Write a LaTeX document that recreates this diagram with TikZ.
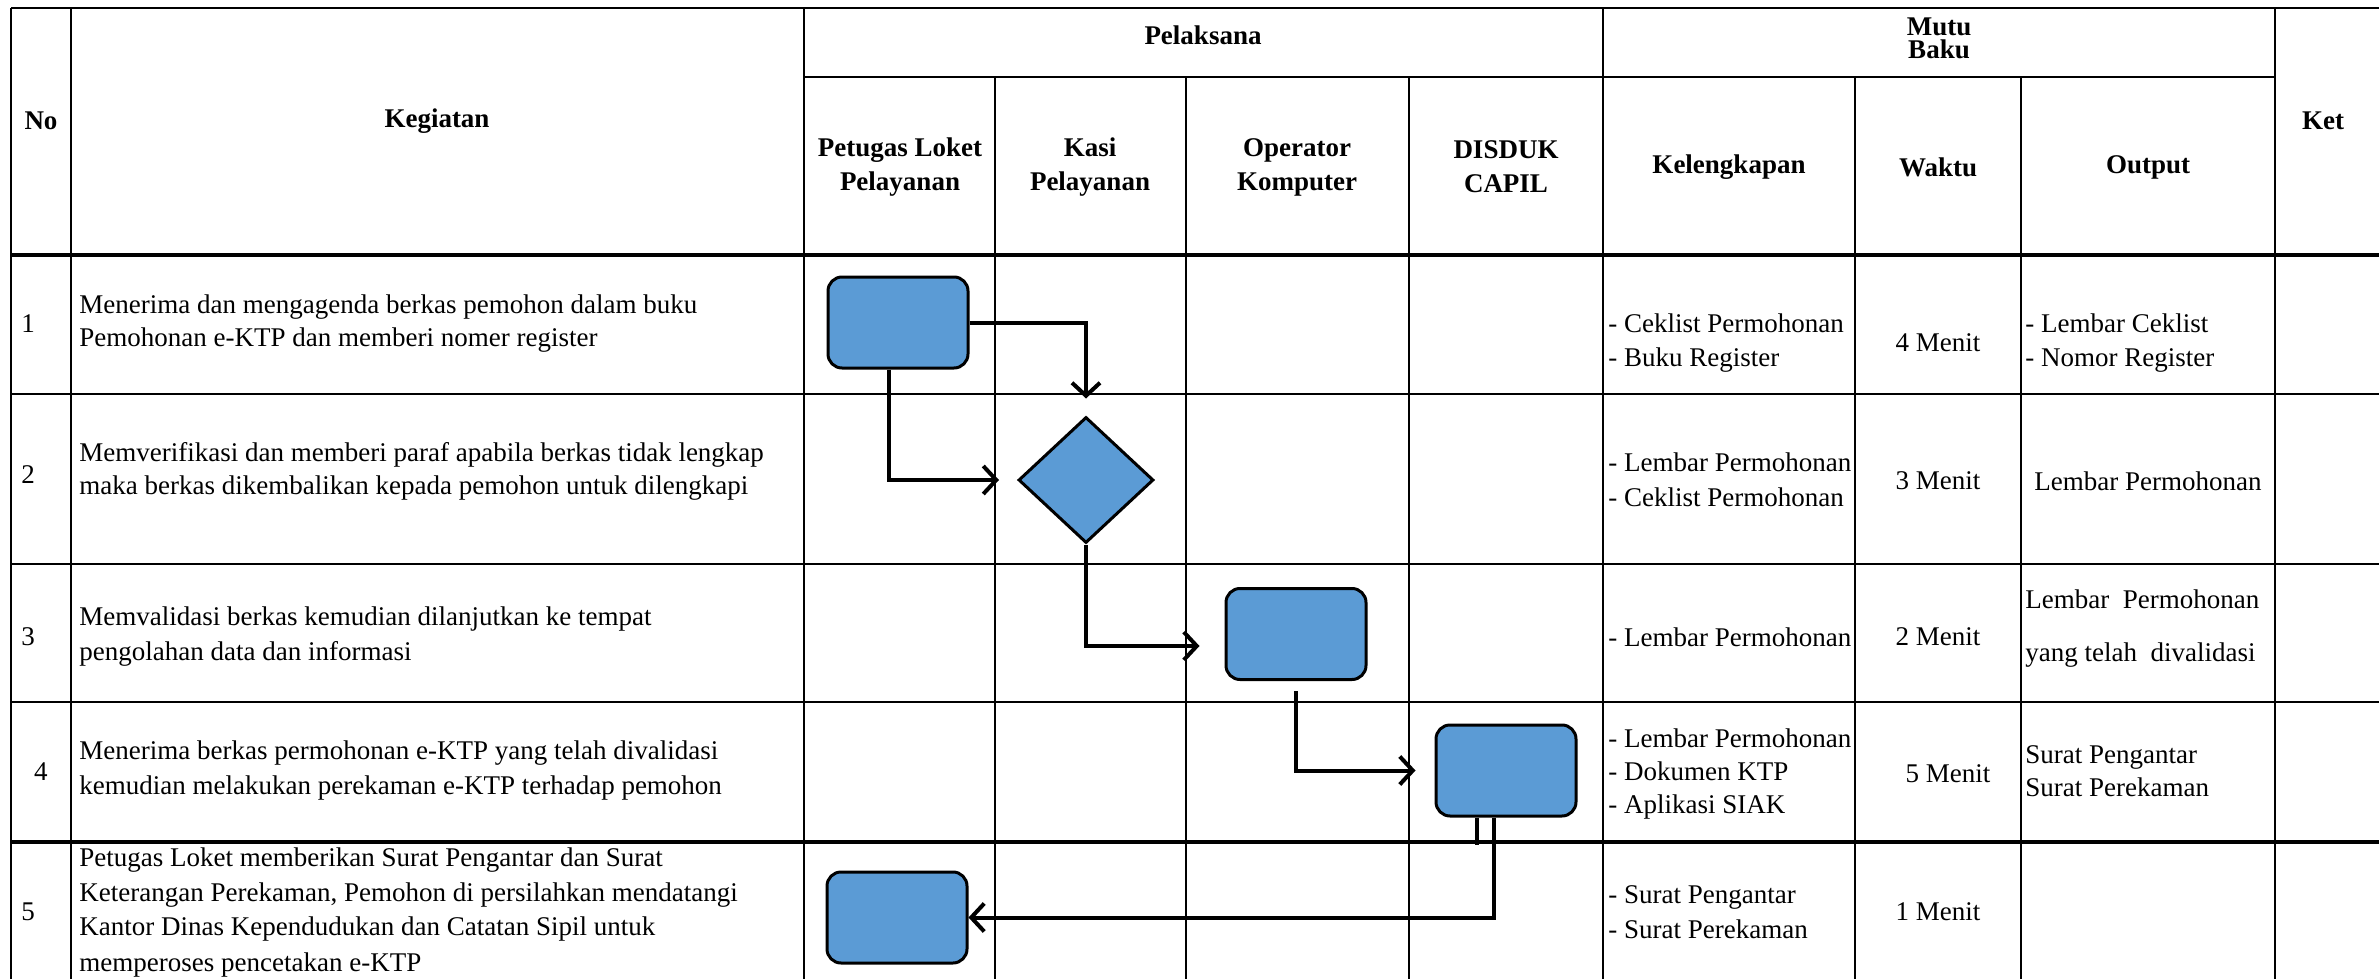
\documentclass[tikz,border=0pt]{standalone}
\usepackage{fontspec}
\setmainfont{Liberation Serif}
\usetikzlibrary{arrows.meta,shapes.geometric}
\definecolor{boxblue}{HTML}{5B9BD5}
\begin{document}
\begin{tikzpicture}[x=0.5pt,y=-0.5pt,
  tline/.style={line width=1.3pt},
  tthick/.style={line width=2pt},
  flowbox/.style={draw=black, line width=1.5pt, fill=boxblue, rounded corners=7pt,
    minimum width=70pt, minimum height=45.5pt, inner sep=0pt},
  decision/.style={draw=black, line width=1.5pt, fill=boxblue, diamond,
    minimum width=67.5pt, minimum height=63pt, inner sep=0pt},
  conn/.style={line width=2pt, -{Straight Barb[length=6.5pt,width=14pt,line width=2pt]}},
  plain/.style={line width=2pt},
  body/.style={font=\fontsize{13.5pt}{16.5pt}\selectfont, align=left, inner sep=0pt},
  bodyc/.style={font=\fontsize{13.5pt}{16.5pt}\selectfont, align=center, inner sep=0pt},
  head/.style={font=\fontsize{13.5pt}{17pt}\selectfont\bfseries, align=center, inner sep=0pt}]
\useasboundingbox (0,0) rectangle (2379,979);
\clip (0,0) rectangle (2379,979);
\fill[white] (0,0) rectangle (2379,979);

% ---- table grid ----
\draw[tline] (11,8) -- (2420,8);
\draw[tline] (804,77) -- (2275,77);
\draw[line width=1.6pt] (11,255) -- (2420,255);
\draw[tline] (11,394) -- (2420,394);
\draw[tline] (11,564) -- (2420,564);
\draw[tline] (11,702) -- (2420,702);
\draw[tthick] (11,842) -- (2420,842);
\foreach \x in {11,71,804,1603,2275} \draw[tline] (\x,8) -- (\x,1000);
\foreach \x in {995,1186,1409,1855,2021} \draw[tline] (\x,77) -- (\x,1000);

% ---- headers ----
\node[head] (hNo) at (41,121) {No};
\node[head] (hKeg) at (437,121) {Kegiatan};
\node[head] (hPel) at (1203,35) {Pelaksana};
\node[head, font=\fontsize{13.5pt}{11.5pt}\selectfont\bfseries] (hMutu) at (1939,38) {Mutu\\Baku};
\node[head] (hKet) at (2323,121) {Ket};
\node[head] (hPet) at (900,167) {Petugas Loket\\Pelayanan};
\node[head] (hKasi) at (1090,167) {Kasi\\Pelayanan};
\node[head] (hOp) at (1297,167) {Operator\\Komputer};
\node[head] (hDis) at (1506,167) {DISDUK\\CAPIL};
\node[head] (hKel) at (1729,167) {Kelengkapan};
\node[head] (hWak) at (1938,167) {Waktu};
\node[head] (hOut) at (2148,167) {Output};

% ---- row numbers ----
\node[body, anchor=west] (n1) at (21,324) {1};
\node[body, anchor=west] (n2) at (21,475) {2};
\node[body, anchor=west] (n3) at (21,637) {3};
\node[body] (n4) at (41,772) {4};
\node[body, anchor=west] (n5) at (21,912) {5};

% ---- Kegiatan ----
\node[body, anchor=west] (k1) at (79,324) {Menerima dan mengagenda berkas pemohon dalam buku\\Pemohonan e-KTP dan memberi nomer register};
\node[body, anchor=west] (k2) at (79,471) {Memverifikasi dan memberi paraf apabila berkas tidak lengkap\\maka berkas dikembalikan kepada pemohon untuk dilengkapi};
\node[body, anchor=west, font=\fontsize{13.5pt}{17.5pt}\selectfont] (k3) at (79,637) {Memvalidasi berkas kemudian dilanjutkan ke tempat\\pengolahan data dan informasi};
\node[body, anchor=west, font=\fontsize{13.5pt}{17.5pt}\selectfont] (k4) at (79,771) {Menerima berkas permohonan e-KTP yang telah divalidasi\\kemudian melakukan perekaman e-KTP terhadap pemohon};
\node[body, anchor=west, font=\fontsize{13.5pt}{17.5pt}\selectfont] (k5) at (79,912) {Petugas Loket memberikan Surat Pengantar dan Surat\\Keterangan Perekaman, Pemohon di persilahkan mendatangi\\Kantor Dinas Kependudukan dan Catatan Sipil untuk\\memperoses pencetakan e-KTP};

% ---- Kelengkapan ----
\node[body, anchor=west, font=\fontsize{13.5pt}{17pt}\selectfont] (l1) at (1608,343) {- Ceklist Permohonan\\- Buku Register};
\node[body, anchor=west, font=\fontsize{13.5pt}{17.5pt}\selectfont] (l2) at (1608,480) {- Lembar Permohonan\\- Ceklist Permohonan};
\node[body, anchor=west] (l3) at (1608,637) {- Lembar Permohonan};
\node[body, anchor=west] (l4) at (1608,774) {- Lembar Permohonan\\- Dokumen KTP\\- Aplikasi SIAK};
\node[body, anchor=west, font=\fontsize{13.5pt}{17.5pt}\selectfont] (l5) at (1608,912) {- Surat Pengantar\\- Surat Perekaman};

% ---- Waktu ----
\node[bodyc] (w1) at (1938,343) {4 Menit};
\node[bodyc] (w2) at (1938,481) {3 Menit};
\node[bodyc] (w3) at (1938,637) {2 Menit};
\node[bodyc] (w4) at (1948,774) {5 Menit};
\node[bodyc] (w5) at (1938,912) {1 Menit};

% ---- Output ----
\node[body, anchor=west, font=\fontsize{13.5pt}{17pt}\selectfont] (o1) at (2025,343) {- Lembar Ceklist\\- Nomor Register};
\node[bodyc] (o2) at (2148,481) {Lembar Permohonan};
\node[body, anchor=west, font=\fontsize{13.5pt}{26.5pt}\selectfont] (o3) at (2025,629) {Lembar\ \ Permohonan\\yang telah\ \ divalidasi};
\node[body, anchor=west] (o4) at (2025,771) {Surat Pengantar\\Surat Perekaman};

% ---- flow shapes ----
\node[flowbox] (b1) at (898,322.5) {};
\node[decision] (dia) at (1086,480) {};
\node[flowbox] (b3) at (1296,634) {};
\node[flowbox] (b4) at (1506,770.5) {};
\node[flowbox] (b5) at (897,917.5) {};

% ---- connectors ----
\draw[conn, shorten >=8.5pt] (b1.east) -| (dia.north);
\draw[conn, shorten >=9pt] ([xshift=-4.5pt]b1.south) |- (dia.west);
\coordinate (b3in) at ([yshift=-6pt]b3.west);
\draw[conn, shorten >=12.5pt] (dia.south) |- (b3in);
\draw[conn, shorten <=5pt, shorten >=9.5pt] (b3.south) |- (b4.west);
\coordinate (stubEnd) at ([xshift=-14.5pt]b4.south |- 0,845);
\draw[plain] ([xshift=-14.5pt]b4.south) -- (stubEnd);
\draw[conn] ([xshift=-6pt]b4.south) |- (b5.east);
\end{tikzpicture}
\end{document}
